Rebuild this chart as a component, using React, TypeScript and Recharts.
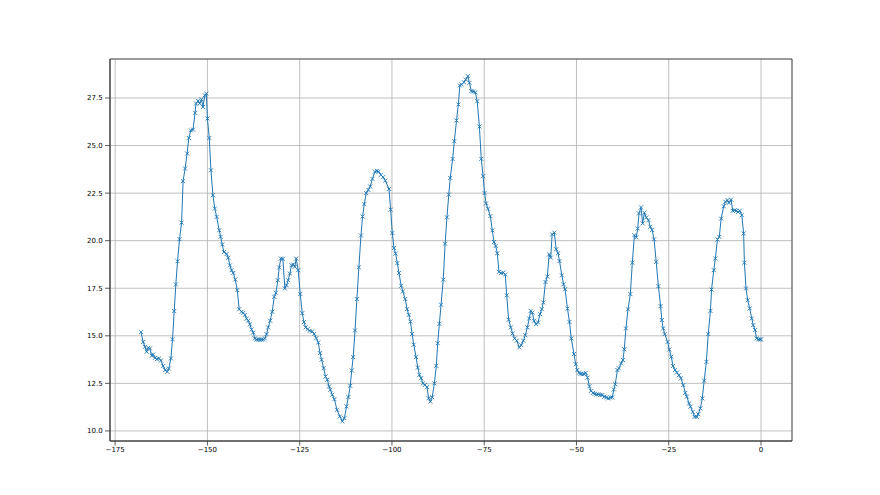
import React from 'react';
import {
	LineChart,
	Line,
	XAxis,
	YAxis,
	CartesianGrid,
	ReferenceArea,
} from 'recharts';

/* ─── Data (hours relative to now, reading) ───────────── */

const HOURS = [
	-168.0, -167.4, -166.93, -166.48, -166.0, -165.6, -165.1, -164.7, -164.2, -163.7,
	-163.14, -162.6, -162.0, -161.45, -160.9, -160.46, -159.9, -159.46, -159.0, -158.56,
	-158.1, -157.56, -157.0, -156.6, -156.05, -155.5, -155.05, -154.5, -153.9, -153.35,
	-153.1, -152.55, -152.1, -151.6, -151.2, -150.7, -150.3, -150.0, -149.5, -149.05,
	-148.5, -148.0, -147.5,
	-146.8, -146.44, -145.99, -145.54, -144.81, -144.36, -143.91, -143.46, -143.0, -142.46,
	-141.92, -141.38, -140.75, -140.3, -139.85, -139.4, -138.94, -138.49, -138.04, -137.59,
	-137.14, -136.69, -136.24, -135.79, -135.34, -134.88, -134.43, -133.98, -133.53, -132.99,
	-132.45, -131.9, -131.45, -130.91, -130.55, -130.1, -129.56, -129.02, -128.57, -128.12,
	-127.66, -127.21, -126.76, -126.31, -125.95, -125.41,
	-124.85, -124.3, -123.85, -123.4, -122.86, -122.3, -121.6, -121.06, -120.5, -119.96,
	-119.5, -119.07, -118.5, -118.0, -117.5, -117.05, -116.7, -116.16, -115.6, -114.9,
	-114.1, -113.45, -112.9, -112.3, -111.8, -111.3, -110.9, -110.5, -110.0, -109.5,
	-108.96, -108.4, -107.96, -107.5, -106.97, -106.4, -105.9, -105.3, -104.6, -104.1,
	-103.6, -103.0, -102.4, -101.8,
	-100.8, -100.36, -99.9, -99.45, -99.0, -98.55, -98.1, -97.5, -97.05, -96.4,
	-95.9, -95.45, -95.0, -94.54, -94.09, -93.46, -93.0, -92.57, -92.1, -91.6,
	-91.05, -90.5, -90.06, -89.6, -89.1, -88.5, -87.98, -87.6, -87.15, -86.7,
	-86.1, -85.6, -85.1, -84.6, -84.2, -83.55, -83.1, -82.5, -82.0, -81.6,
	-81.1, -80.5, -80.0, -79.45, -79.0, -78.5, -78.0, -77.4, -76.9, -76.3,
	-75.8, -75.3, -74.9,
	-74.5, -73.98, -73.35, -72.8, -72.36, -71.9, -71.46, -71.0, -70.46, -69.83,
	-69.3, -68.9, -68.38, -67.8, -67.3, -66.75, -66.2, -65.5, -64.96, -64.4,
	-63.86, -63.3, -62.8, -62.4, -61.96, -61.5, -60.96, -60.4, -59.9, -59.4,
	-58.98, -58.4, -57.9, -57.4, -56.97, -56.6, -56.0, -55.5, -55.0, -54.6,
	-53.96, -53.5, -53.1, -52.44, -51.9, -51.4,
	-50.68, -50.2, -49.78, -49.33, -48.9, -48.4, -47.97, -47.5, -47.0, -46.5,
	-46.1, -45.5, -45.07, -44.6, -44.1, -43.54, -43.0, -42.46, -41.92, -41.38,
	-40.8, -40.3, -39.9, -39.5, -38.9, -38.5, -37.9, -37.4, -37.05, -36.6,
	-36.04, -35.4, -34.87, -34.3, -33.8, -33.4, -33.07, -32.5, -32.07, -31.6,
	-31.08, -30.5, -30.0, -29.5, -28.97, -28.4, -27.8, -27.2, -26.87, -26.5,
	-26.1,
	-25.3, -24.85, -24.3, -23.85, -23.3, -22.8, -22.25, -21.7, -21.05, -20.5,
	-20.1, -19.5, -19.1, -18.5, -18.0, -17.4, -17.0, -16.44, -15.9, -15.4,
	-14.8, -14.3, -13.7, -13.4, -12.8, -12.38, -11.8, -11.3, -10.8, -10.1,
	-9.66, -9.1, -8.67, -8.1, -7.67, -7.1, -6.67, -6.2, -5.78, -5.2,
	-4.7, -4.5, -4.06, -3.6, -3.07, -2.5, -2.1, -1.6, -1.2, -0.7,
	-0.25, 0.0,
];

const READINGS = [
	15.19, 14.68, 14.42, 14.16, 14.37, 14.33, 13.95, 14.02, 13.84, 13.77,
	13.81, 13.7, 13.41, 13.2, 13.11, 13.28, 13.81, 14.82, 16.3, 17.7,
	18.92, 20.08, 20.95, 23.13, 23.79, 24.58, 25.4, 25.8, 25.84, 26.72,
	27.21, 27.35, 27.21, 27.43, 27.03, 27.64, 27.73, 26.42, 25.4, 23.7,
	22.39, 21.69, 21.25,
	20.55, 20.2, 19.8, 19.4, 19.3, 19.1, 18.7, 18.45, 18.3, 17.96,
	17.4, 16.4, 16.26, 16.2, 16.1, 15.9, 15.8, 15.6, 15.33, 15.17,
	14.86, 14.8, 14.8, 14.8, 14.8, 14.8, 14.86, 15.09, 15.44, 15.79,
	16.26, 17.05, 17.26, 17.92, 18.59, 19.06, 19.05, 17.49, 17.66, 17.92,
	18.27, 18.71, 18.75, 18.63, 19.06, 18.45,
	17.2, 16.19, 15.72, 15.44, 15.35, 15.26, 15.23, 15.1, 14.88, 14.65,
	14.09, 13.74, 13.3, 12.86, 12.69, 12.34, 12.16, 11.9, 11.67, 11.11,
	10.76, 10.5, 10.67, 11.29, 11.78, 12.37, 13.18, 13.88, 15.28, 16.93,
	18.6, 20.27, 21.27, 21.92, 22.5, 22.67, 22.85, 23.25, 23.63, 23.67,
	23.63, 23.46, 23.34, 23.16,
	22.72, 21.63, 20.4, 19.61, 19.32, 18.82, 18.3, 17.63, 17.33, 16.93,
	16.4, 16.1, 15.75, 15.1, 14.53, 13.88, 13.33, 12.95, 12.77, 12.5,
	12.42, 12.3, 11.72, 11.54, 11.77, 12.5, 13.42, 14.61, 15.63, 16.63,
	17.95, 19.84, 21.23, 22.42, 23.3, 24.3, 25.23, 26.32, 27.16, 28.16,
	28.21, 28.33, 28.47, 28.65, 28.3, 27.86, 27.84, 27.8, 27.33, 26.0,
	24.3, 23.39, 22.5,
	21.96, 21.68, 21.29, 20.54, 19.93, 19.72, 19.34, 18.36, 18.29, 18.32,
	18.22, 17.13, 15.84, 15.44, 15.12, 14.86, 14.74, 14.39, 14.51, 14.74,
	15.03, 15.44, 15.91, 16.31, 16.22, 15.79, 15.61, 15.7, 16.14, 16.4,
	16.75, 17.83, 18.11, 19.28, 19.11, 20.33, 20.42, 19.55, 19.34, 18.93,
	18.18, 17.71, 17.45, 16.43, 15.73, 14.86,
	14.04, 13.5, 13.2, 13.06, 13.0, 12.98, 13.0, 13.05, 12.8, 12.35,
	12.1, 12.0, 11.95, 11.92, 11.92, 11.89, 11.89, 11.8, 11.76, 11.71,
	11.75, 11.76, 12.18, 12.45, 13.2, 13.29, 13.55, 13.73, 14.29, 15.39,
	16.39, 17.19, 18.84, 20.29, 20.17, 20.64, 21.43, 21.75, 20.91, 21.47,
	21.22, 21.08, 20.73, 20.56, 20.07, 18.89, 17.61, 16.56, 15.83, 15.39,
	15.09,
	14.68, 14.28, 13.9, 13.41, 13.2, 13.07, 12.93, 12.76, 12.41, 12.0,
	11.8, 11.44, 11.27, 11.0, 10.74, 10.74, 10.88, 11.18, 11.71, 12.64,
	13.63, 15.09, 16.31, 17.43, 18.45, 19.06, 20.06, 20.2, 21.16, 21.81,
	22.04, 22.13, 21.99, 22.16, 21.57, 21.6, 21.57, 21.51, 21.57, 21.34,
	20.38, 18.84, 17.49, 16.87, 16.44, 15.91, 15.56, 15.3, 14.86, 14.81,
	14.81, 14.81,
];

const X_TICKS = [-175, -150, -125, -100, -75, -50, -25, 0];
const Y_TICKS = [10.0, 12.5, 15.0, 17.5, 20.0, 22.5, 25.0, 27.5];

const X_DOMAIN: [number, number] = [-176.4, 8.4];
const Y_DOMAIN: [number, number] = [9.47, 29.55];

/* ─── Styles ──────────────────────────────────────────── */

const BLUE = '#1f77b4';
const TICK_STYLE = { fill: '#000', fontSize: 7, fontFamily: 'DejaVu Sans, sans-serif' };
const AXIS_LINE = { stroke: '#333', strokeWidth: 0.8 };

const data = HOURS.map((h, i) => ({ h, v: READINGS[i] }));

// matplotlib style "x" marker
function CrossDot(props: any) {
	const { cx, cy, index } = props;
	if (cx == null || cy == null) return <g key={`d-${index}`} />;
	const r = 2;
	return (
		<g key={`d-${index}`} stroke={BLUE} strokeWidth={0.9}>
			<line x1={cx - r} y1={cy - r} x2={cx + r} y2={cy + r} />
			<line x1={cx - r} y1={cy + r} x2={cx + r} y2={cy - r} />
		</g>
	);
}

const fmtX = (v: number) => (v < 0 ? `\u2212${Math.abs(v)}` : `${v}`);

export default function App() {
	return (
		<div style={{ position: 'absolute', left: 0, top: 0, width: 880, height: 495, background: '#fff' }}>
			<LineChart
				width={880}
				height={495}
				data={data}
				margin={{ top: 59, right: 88, left: 70, bottom: 0 }}
			>
				<CartesianGrid stroke="#b0b0b0" strokeWidth={0.8} />

				<XAxis
					dataKey="h"
					type="number"
					domain={X_DOMAIN}
					ticks={X_TICKS}
					allowDataOverflow
					height={54}
					tickSize={4.5}
					tickMargin={1.2}
					tick={TICK_STYLE}
					tickLine={AXIS_LINE}
					axisLine={AXIS_LINE}
					tickFormatter={fmtX}
				/>

				<YAxis
					type="number"
					domain={Y_DOMAIN}
					ticks={Y_TICKS}
					allowDataOverflow
					width={40}
					tickSize={5}
					tickMargin={2.3}
					tick={TICK_STYLE}
					tickLine={AXIS_LINE}
					axisLine={AXIS_LINE}
					tickFormatter={(v: number) => v.toFixed(1)}
				/>

				<ReferenceArea
					x1={X_DOMAIN[0]}
					x2={X_DOMAIN[1]}
					y1={Y_DOMAIN[0]}
					y2={Y_DOMAIN[1]}
					fill="none"
					fillOpacity={0}
					stroke="#333"
					strokeWidth={0.8}
					strokeOpacity={1}
				/>

				<Line
					type="linear"
					dataKey="v"
					stroke={BLUE}
					strokeWidth={1}
					dot={CrossDot}
					activeDot={false}
					isAnimationActive={false}
				/>
			</LineChart>
		</div>
	);
}
